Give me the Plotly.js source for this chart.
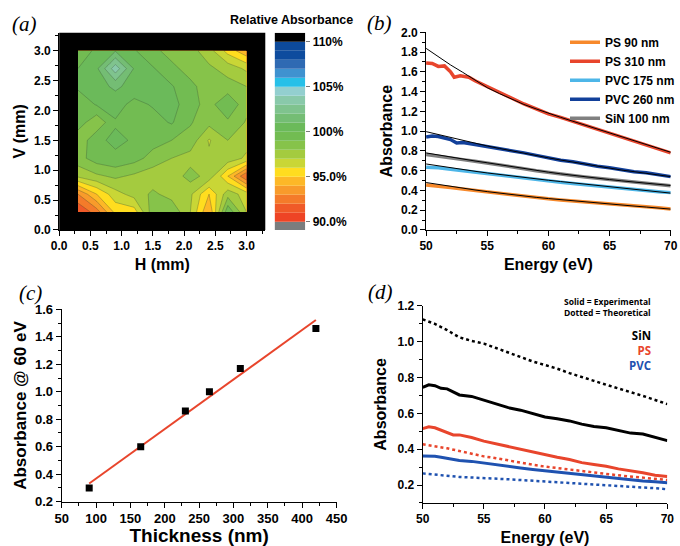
<!DOCTYPE html>
<html>
<head>
<meta charset="utf-8">
<script src="https://cdn.plot.ly/plotly-3.0.1.min.js"></script>
<style>html,body{margin:0;padding:0;background:#fff}#chart{width:680px;height:546px}</style>
</head>
<body>
<div id="chart"></div>
<script>
// ---------- Panel (a): relative absorbance map ----------
const gridH = [0.3, 0.6, 0.9, 1.2, 1.5, 1.8, 2.1, 2.4, 2.7, 3.0];
const gridV = [0.3, 0.6, 0.9, 1.2, 1.5, 1.8, 2.1, 2.4, 2.7, 3.0];
const relAbsorbance = [
  [91.0, 92.5, 95.3, 95.5, 98.6, 98.8, 97.0, 94.0, 99.8, 97.0],
  [93.0, 95.0, 96.6, 97.4, 98.2, 97.6, 97.2, 95.0, 97.6, 96.5],
  [97.2, 97.8, 98.2, 97.8, 97.4, 97.4, 98.4, 97.6, 95.0, 92.0],
  [98.6, 99.5, 99.8, 99.4, 98.6, 98.0, 97.6, 97.2, 97.6, 96.8],
  [98.2, 99.8, 100.2, 99.9, 99.4, 99.0, 98.6, 96.9, 98.0, 97.4],
  [99.6, 98.2, 99.9, 99.2, 99.6, 100.1, 99.1, 98.3, 98.8, 97.9],
  [99.2, 100.1, 100.4, 99.7, 100.1, 100.4, 99.4, 98.6, 99.9, 98.3],
  [100.2, 100.6, 101.2, 100.6, 100.4, 100.1, 99.2, 98.6, 98.4, 98.0],
  [100.0, 100.8, 103.6, 100.9, 100.1, 99.2, 98.7, 98.2, 97.6, 96.8],
  [99.7, 100.1, 100.9, 100.1, 99.2, 98.7, 98.4, 97.4, 95.6, 94.2]
];
// colour bands (lower edge of each 1 % band)
const bandLows = [89, 90, 91, 92, 93, 94, 95, 96, 97, 98, 99, 100, 101, 102, 103, 104, 105, 106, 107, 108, 109, 110];
const bandColors = ['#7a7d7e', '#ee4425', '#f05a28', '#f47b2a', '#f89b2b', '#fdb827', '#ffdd1f', '#c9d636',
  '#a4cb3f', '#86c34a', '#72bc52', '#6bba5a', '#74bd74', '#7fc38e', '#89c9aa', '#93cfcf', '#27c0e8',
  '#3f92d0', '#2f6ab3', '#0e4c9e', '#0d4a9a', '#000000'];
const cbTickVals = [90, 95, 100, 105, 110];
const cbTickText = ['90.0%', '95.0%', '100%', '105%', '110%'];

// ---------- Panel (b): absorbance spectra ----------
const energy = [50, 51, 52, 53, 54, 55, 56, 57, 58, 59, 60, 61, 62, 63, 64, 65, 66, 67, 68, 69, 70];
const energyPS310 = [50, 50.5, 51, 51.5, 52, 52.3, 52.8, 53.5, 54, 55, 56, 57, 58, 59, 60, 61, 62, 63, 64, 65, 66, 67, 68, 69, 70];
const ps90 = [0.455, 0.445, 0.43, 0.415, 0.4, 0.383, 0.368, 0.353, 0.34, 0.328, 0.315, 0.304, 0.293, 0.283, 0.273, 0.263, 0.253, 0.243, 0.235, 0.225, 0.213];
const ps310 = [1.69, 1.685, 1.655, 1.66, 1.60, 1.545, 1.56, 1.545, 1.51, 1.45, 1.39, 1.33, 1.275, 1.225, 1.175, 1.14, 1.10, 1.055, 1.015, 0.975, 0.935, 0.895, 0.86, 0.815, 0.78];
const pvc175 = [0.635, 0.63, 0.615, 0.6, 0.585, 0.565, 0.553, 0.538, 0.522, 0.508, 0.495, 0.483, 0.47, 0.458, 0.445, 0.432, 0.42, 0.405, 0.395, 0.388, 0.378];
const energyPVC260 = [50, 50.5, 51, 52, 52.5, 53, 54, 55, 56, 57, 58, 59, 60, 61, 62, 63, 64, 65, 66, 67, 68, 69, 70];
const pvc260 = [0.94, 0.95, 0.945, 0.915, 0.88, 0.885, 0.865, 0.845, 0.825, 0.80, 0.78, 0.755, 0.73, 0.705, 0.69, 0.665, 0.645, 0.63, 0.61, 0.59, 0.58, 0.56, 0.54];
const sin100 = [0.765, 0.75, 0.73, 0.712, 0.695, 0.678, 0.658, 0.64, 0.62, 0.6, 0.582, 0.567, 0.552, 0.537, 0.522, 0.51, 0.498, 0.485, 0.472, 0.46, 0.448];
// theoretical fits (thin black lines)
const fitPS90 = [0.48, 0.46, 0.44, 0.422, 0.405, 0.388, 0.372, 0.357, 0.343, 0.33, 0.318, 0.306, 0.295, 0.284, 0.273, 0.262, 0.252, 0.242, 0.232, 0.221, 0.211];
const fitPS310 = [1.838, 1.75, 1.67, 1.595, 1.515, 1.44, 1.38, 1.325, 1.27, 1.225, 1.18, 1.14, 1.10, 1.06, 1.02, 0.98, 0.94, 0.90, 0.86, 0.825, 0.786];
const fitPVC175 = [0.668, 0.648, 0.63, 0.612, 0.594, 0.577, 0.561, 0.546, 0.531, 0.517, 0.503, 0.49, 0.477, 0.464, 0.451, 0.438, 0.425, 0.412, 0.399, 0.386, 0.373];
const fitPVC260 = [0.995, 0.965, 0.935, 0.905, 0.877, 0.85, 0.825, 0.8, 0.775, 0.752, 0.73, 0.708, 0.687, 0.666, 0.645, 0.625, 0.606, 0.59, 0.572, 0.556, 0.54];
const fitSiN100 = [0.78, 0.758, 0.737, 0.717, 0.698, 0.68, 0.66, 0.64, 0.62, 0.602, 0.585, 0.568, 0.552, 0.537, 0.523, 0.51, 0.497, 0.485, 0.473, 0.461, 0.45];

// ---------- Panel (c): absorbance at 60 eV vs thickness ----------
const thickness = [90, 165, 230, 265, 310, 420];
const abs60 = [0.30, 0.60, 0.86, 1.00, 1.17, 1.46];
const fitThickness = [90, 420];
const fitAbs60 = [0.333, 1.522];

// ---------- Panel (d): experimental vs theoretical ----------
const energyExp = [50, 50.5, 51, 51.5, 52, 52.5, 53, 54, 55, 56, 57, 58, 59, 60, 61, 62, 63, 64, 65, 66, 67, 68, 69, 70];
const sinExp = [0.745, 0.76, 0.755, 0.74, 0.737, 0.72, 0.703, 0.695, 0.673, 0.65, 0.632, 0.618, 0.6, 0.58, 0.57, 0.558, 0.54, 0.527, 0.52, 0.505, 0.49, 0.485, 0.465, 0.448];
const psExp = [0.515, 0.525, 0.52, 0.508, 0.495, 0.48, 0.48, 0.465, 0.445, 0.43, 0.413, 0.398, 0.383, 0.366, 0.355, 0.342, 0.325, 0.315, 0.305, 0.29, 0.28, 0.268, 0.255, 0.247];
const pvcExp = [0.362, 0.362, 0.36, 0.355, 0.35, 0.343, 0.337, 0.332, 0.322, 0.313, 0.305, 0.295, 0.287, 0.28, 0.27, 0.263, 0.257, 0.25, 0.243, 0.237, 0.228, 0.222, 0.218, 0.213];
const sinTheo = [1.125, 1.10, 1.065, 1.025, 1.005, 0.99, 0.965, 0.94, 0.915, 0.89, 0.87, 0.85, 0.825, 0.805, 0.782, 0.76, 0.74, 0.72, 0.698, 0.675, 0.652];
const psTheo = [0.428, 0.418, 0.405, 0.39, 0.373, 0.36, 0.35, 0.337, 0.325, 0.313, 0.303, 0.294, 0.285, 0.277, 0.27, 0.262, 0.254, 0.247, 0.241, 0.235, 0.228];
const pvcTheo = [0.265, 0.258, 0.254, 0.245, 0.242, 0.24, 0.236, 0.232, 0.228, 0.224, 0.22, 0.215, 0.21, 0.206, 0.202, 0.2, 0.197, 0.194, 0.188, 0.182, 0.176];

// ---------- styling ----------
const FONT = 'Liberation Sans, Arial, sans-serif';
const C = {ps90: '#f7892b', ps310: '#e8452c', pvc175: '#4db6e8', pvc260: '#12409a', sin: '#808080',
           red: '#e8452c', blue: '#1f52b0', black: '#000000'};

// stepped colourscale built from the bands
const nb = bandColors.length;
const colorscale = [];
bandColors.forEach((c, i) => { colorscale.push([i / nb, c]); colorscale.push([(i + 1) / nb, c]); });

const traces = [];
traces.push({
  type: 'contour', x: gridH, y: gridV, z: relAbsorbance, xaxis: 'x', yaxis: 'y',
  autocontour: false, contours: {start: 90, end: 110, size: 1, coloring: 'fill', showlines: true},
  zmin: 89, zmax: 111, zauto: false,
  colorscale: colorscale, showscale: false,
  line: {color: 'rgba(50,70,50,0.6)', width: 0.5, smoothing: 0},
  hoverinfo: 'skip', showlegend: false
});
// manual colour bar drawn as stacked bars
traces.push({
  type: 'bar', xaxis: 'x5', yaxis: 'y5',
  x: bandLows.map(() => 0), y: bandLows.map(() => 1), base: bandLows,
  width: 1, marker: {color: bandColors, line: {width: 0}},
  showlegend: false, hoverinfo: 'skip'
});

function dataLine(x, y, name, color, ax, ay) {
  return {type: 'scatter', mode: 'lines', x: x, y: y, name: name, xaxis: ax, yaxis: ay,
          line: {color: color, width: 3.5}, showlegend: true, legend: 'legend'};
}
function fitLine(x, y, ax, ay) {
  return {type: 'scatter', mode: 'lines', x: x, y: y, xaxis: ax, yaxis: ay,
          line: {color: '#000', width: 1}, showlegend: false, hoverinfo: 'skip'};
}
traces.push(dataLine(energy, ps90, 'PS 90 nm', C.ps90, 'x2', 'y2'));
traces.push(dataLine(energyPS310, ps310, 'PS 310 nm', C.ps310, 'x2', 'y2'));
traces.push(dataLine(energy, pvc175, 'PVC 175 nm', C.pvc175, 'x2', 'y2'));
traces.push(dataLine(energyPVC260, pvc260, 'PVC 260 nm', C.pvc260, 'x2', 'y2'));
traces.push(dataLine(energy, sin100, 'SiN 100 nm', C.sin, 'x2', 'y2'));
traces.push(fitLine(energy, fitPS90, 'x2', 'y2'));
traces.push(fitLine(energy, fitPS310, 'x2', 'y2'));
traces.push(fitLine(energy, fitPVC175, 'x2', 'y2'));
traces.push(fitLine(energy, fitPVC260, 'x2', 'y2'));
traces.push(fitLine(energy, fitSiN100, 'x2', 'y2'));

// panel c
traces.push({type: 'scatter', mode: 'lines', x: fitThickness, y: fitAbs60, xaxis: 'x3', yaxis: 'y3',
             line: {color: C.red, width: 2}, showlegend: false});
traces.push({type: 'scatter', mode: 'markers', x: thickness, y: abs60, xaxis: 'x3', yaxis: 'y3',
             marker: {symbol: 'square', size: 7, color: '#000'}, showlegend: false});

// panel d
function dLine(x, y, color, dash) {
  return {type: 'scatter', mode: 'lines', x: x, y: y, xaxis: 'x4', yaxis: 'y4',
          line: {color: color, width: dash ? 2.5 : 3, dash: dash || 'solid'}, showlegend: false};
}
traces.push(dLine(energy, sinTheo, C.black, 'dot'));
traces.push(dLine(energy, psTheo, C.red, 'dot'));
traces.push(dLine(energy, pvcTheo, C.blue, 'dot'));
traces.push(dLine(energyExp, sinExp, C.black));
traces.push(dLine(energyExp, psExp, C.red));
traces.push(dLine(energyExp, pvcExp, C.blue));

const tickFont = {family: FONT, size: 12, color: '#000', weight: 'bold'};
const titleFont = {family: FONT, size: 16, color: '#000', weight: 'bold'};
function axis(domain, range, dtick, minor, anchor, extra) {
  return Object.assign({
    domain: domain, range: range, dtick: dtick, tick0: 0, anchor: anchor,
    ticks: 'outside', ticklen: 5, tickwidth: 1, tickcolor: '#000',
    minor: {dtick: minor, ticks: 'outside', ticklen: 3, tickcolor: '#000', showgrid: false},
    showline: true, linecolor: '#000', linewidth: 1, showgrid: false, zeroline: false,
    tickfont: tickFont, fixedrange: true
  }, extra || {});
}

const OS = 'Open Sans, Noto Sans, sans-serif';
const layout = {
  width: 680, height: 546,
  margin: {l: 0, r: 0, t: 0, b: 0},
  paper_bgcolor: '#fff', plot_bgcolor: 'rgba(0,0,0,0)',
  showlegend: true,
  font: {family: FONT, color: '#000'},
  xaxis: axis([0.0872, 0.3907], [0, 3.3], 0.5, 0.25, 'y',
    {tickformat: '.1f', title: {text: 'H (mm)', font: titleFont, standoff: 6}}),
  yaxis: axis([0.5788, 0.9401], [0, 3.3], 0.5, 0.25, 'x',
    {tickformat: '.1f', title: {text: 'V (mm)', font: titleFont, standoff: 4}}),
  xaxis2: axis([0.6275, 0.9878], [50, 70], 5, 2.5, 'y2',
    {title: {text: 'Energy (eV)', font: titleFont, standoff: 6}}),
  yaxis2: axis([0.5788, 0.9408], [0, 2.0], 0.2, 0.1, 'x2',
    {tickformat: '.1f', title: {text: 'Absorbance', font: titleFont, standoff: 4}}),
  xaxis3: axis([0.0909, 0.4956], [50, 450], 50, 25, 'y3',
    {tickfont: Object.assign({}, tickFont, {size: 13}),
     title: {text: 'Thickness (nm)', font: Object.assign({}, titleFont, {size: 19}), standoff: 4}}),
  yaxis3: axis([0.0811, 0.4335], [0.2, 1.6], 0.2, 0.1, 'x3',
    {tickformat: '.1f', tickfont: Object.assign({}, tickFont, {size: 13}),
     title: {text: 'Absorbance @ 60 eV', font: Object.assign({}, titleFont, {size: 17}), standoff: 4}}),
  xaxis4: axis([0.6225, 0.9828], [50, 70], 5, 2.5, 'y4',
    {title: {text: 'Energy (eV)', font: titleFont, standoff: 6}}),
  yaxis4: axis([0.0789, 0.4396], [0.1, 1.2], 0.2, 0.1, 'x4',
    {tick0: 0.2, tickformat: '.1f', title: {text: 'Absorbance', font: titleFont, standoff: 6}}),
  xaxis5: {domain: [0.4044, 0.4496], range: [-0.5, 0.5], anchor: 'y5', visible: false, fixedrange: true},
  yaxis5: {domain: [0.5788, 0.9401], range: [89.08, 111], anchor: 'x5', side: 'right',
    tickvals: cbTickVals, ticktext: cbTickText, ticks: 'outside', ticklen: 4, tickcolor: '#777',
    showline: false, showgrid: false, zeroline: false, tickfont: tickFont, fixedrange: true},
  legend: {x: 0.832, y: 0.949, xanchor: 'left', yanchor: 'top', bgcolor: 'rgba(0,0,0,0)',
    font: {family: FONT, size: 12, color: '#000', weight: 'bold'}, tracegroupgap: 0},
  shapes: [{type: 'rect', xref: 'x domain', yref: 'y domain', x0: 0, x1: 1, y0: 0, y1: 1,
            fillcolor: '#000', line: {width: 0}, layer: 'below'}],
  annotations: [
    {text: '(a)', x: 25 / 680, y: 1 - 24 / 546},
    {text: '(b)', x: 380 / 680, y: 1 - 23 / 546},
    {text: '(c)', x: 31 / 680, y: 1 - 293 / 546},
    {text: '(d)', x: 381 / 680, y: 1 - 292 / 546}
  ].map(a => Object.assign({xref: 'paper', yref: 'paper', showarrow: false, xanchor: 'center', yanchor: 'middle',
        font: {family: 'Liberation Serif, Times New Roman, serif', size: 21, style: 'italic', color: '#000'}}, a))
  .concat([
    {text: 'Relative Absorbance', x: 292 / 680, y: 1 - 20 / 546, xanchor: 'center', yanchor: 'middle',
     font: {family: FONT, size: 12.5, weight: 'bold', color: '#000'}},
    {text: 'Solid = Experimental<br>Dotted = Theoretical', x: 654 / 680, y: 1 - 294 / 546,
     xanchor: 'right', yanchor: 'top', align: 'right',
     font: {family: OS, size: 8.5, weight: 'bold', color: '#000'}},
    {text: '<span style="color:#000000">SiN</span><br><span style="color:#e8452c">PS</span><br><span style="color:#1f52b0">PVC</span>',
     x: 654 / 680, y: 1 - 326 / 546, xanchor: 'right', yanchor: 'top', align: 'right',
     font: {family: OS, size: 11.5, weight: 'bold', color: '#000'}}
  ].map(a => Object.assign({xref: 'paper', yref: 'paper', showarrow: false}, a)))
};

Plotly.newPlot('chart', traces, layout, {staticPlot: true, displayModeBar: false});
</script>
</body>
</html>
